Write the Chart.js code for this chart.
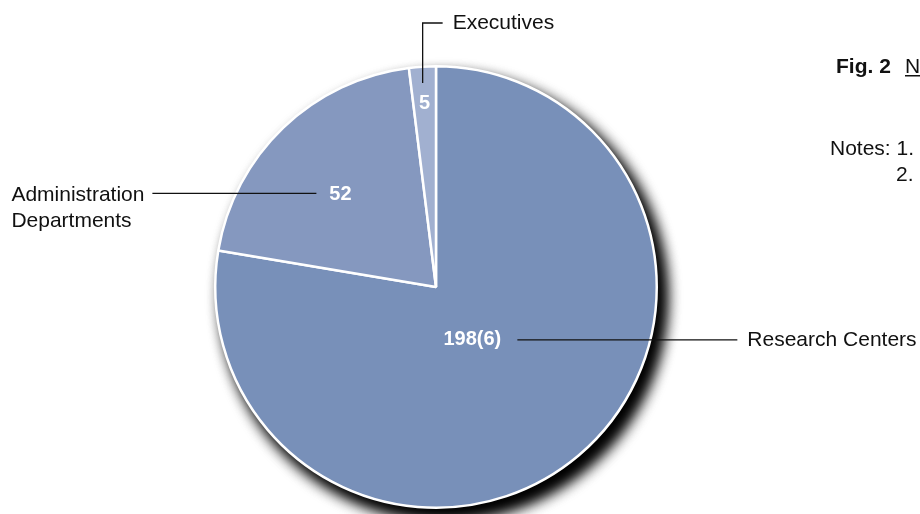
<!DOCTYPE html>
<html lang="en">
<head>
    <meta charset="UTF-8">
    <title>Fig. 2</title>
    <script src="https://cdn.jsdelivr.net/npm/chart.js@4.4.0/dist/chart.umd.min.js"></script>
    <style>
        html, body { margin: 0; padding: 0; background: #fff; }
        #wrap { width: 920px; height: 514px; position: relative; overflow: hidden; }
    </style>
</head>
<body>
    <div id="wrap"><canvas id="pieChart" width="920" height="514"></canvas></div>
    <script>
        // staff by unit
        const categories = [['Research Centers'], ['Administration', 'Departments'], ['Executives']];
        const staffCounts = [198, 52, 5];
        const countNotes = ['(6)', '', ''];
        const sliceColors = ['#7890b9', '#8598bf', '#a1b0d0'];

        const FONT = 'Arial, "Liberation Sans", sans-serif';

        // where each value sits inside its slice, and the callout drawn from it
        const callouts = [
            { frac: 0.29, nudge: [-5, 4], path: [[45, 0], [265, 0]], text: [275, 0], align: 'left' },
            { frac: 0.60, nudge: [-4, 3], path: [[-24, -1], [-188, -1]], text: [-329, 1], align: 'left' },
            { frac: 0.835, nudge: [0, 0], path: [[-2, -20], [-2, -80], [18, -80]], text: [28, -80], align: 'left' }
        ];

        const pieShadow = {
            id: 'pieShadow',
            beforeDatasetsDraw(chart) {
                const arc = chart.getDatasetMeta(0).data[0];
                const { x, y, outerRadius } = arc.getProps(['x', 'y', 'outerRadius'], true);
                const ctx = chart.ctx;
                ctx.save();
                ctx.shadowColor = '#000';
                ctx.shadowBlur = 16;
                ctx.shadowOffsetX = 8;
                ctx.shadowOffsetY = 10;
                ctx.fillStyle = '#fff';
                // two passes for a deeper shadow
                for (let k = 0; k < 2; k++) {
                    ctx.beginPath();
                    ctx.arc(x, y, outerRadius, 0, Math.PI * 2);
                    ctx.fill();
                }
                ctx.restore();
            }
        };

        const sliceLabels = {
            id: 'sliceLabels',
            afterDatasetsDraw(chart) {
                const ctx = chart.ctx;
                const ds = chart.data.datasets[0];
                chart.getDatasetMeta(0).data.forEach((arc, i) => {
                    const { x, y, startAngle, endAngle, outerRadius } =
                        arc.getProps(['x', 'y', 'startAngle', 'endAngle', 'outerRadius'], true);
                    const c = callouts[i];
                    const mid = (startAngle + endAngle) / 2;
                    const lx = x + Math.cos(mid) * outerRadius * c.frac + c.nudge[0];
                    const ly = y + Math.sin(mid) * outerRadius * c.frac + c.nudge[1];

                    ctx.save();
                    ctx.font = 'bold 20px ' + FONT;
                    ctx.fillStyle = '#fff';
                    ctx.textAlign = 'center';
                    ctx.textBaseline = 'middle';
                    ctx.fillText(ds.data[i] + countNotes[i], lx, ly);

                    // leader line
                    ctx.strokeStyle = '#111';
                    ctx.lineWidth = 1.3;
                    ctx.beginPath();
                    c.path.forEach((p, k) => {
                        if (k === 0) ctx.moveTo(lx + p[0], ly + p[1]);
                        else ctx.lineTo(lx + p[0], ly + p[1]);
                    });
                    ctx.stroke();

                    // category name
                    ctx.font = '21px ' + FONT;
                    ctx.fillStyle = '#111';
                    ctx.textAlign = c.align;
                    const lines = chart.data.labels[i];
                    lines.forEach((t, k) => {
                        ctx.fillText(t, lx + c.text[0], ly + c.text[1] + k * 26);
                    });
                    ctx.restore();
                });

                // figure caption and notes on the right
                ctx.save();
                ctx.fillStyle = '#111';
                ctx.textBaseline = 'alphabetic';
                ctx.textAlign = 'left';
                ctx.font = 'bold 21px ' + FONT;
                ctx.fillText('Fig. 2', 836, 73);
                ctx.font = '21px ' + FONT;
                ctx.fillText('N', 905, 73);
                ctx.fillRect(905, 75, ctx.measureText('N').width, 1.5);
                ctx.fillText('Notes: 1.', 830, 155);
                ctx.fillText('2.', 896, 181);
                ctx.restore();
            }
        };

        new Chart(document.getElementById('pieChart'), {
            type: 'pie',
            data: {
                labels: categories,
                datasets: [{
                    data: staffCounts,
                    backgroundColor: sliceColors,
                    borderColor: '#fff',
                    borderWidth: 2.5
                }]
            },
            options: {
                responsive: false,
                animation: false,
                layout: { padding: { left: 214, right: 262, top: 65, bottom: 5 } },
                plugins: {
                    legend: { display: false },
                    tooltip: { enabled: false },
                    title: { display: false }
                }
            },
            plugins: [pieShadow, sliceLabels]
        });
    </script>
</body>
</html>
